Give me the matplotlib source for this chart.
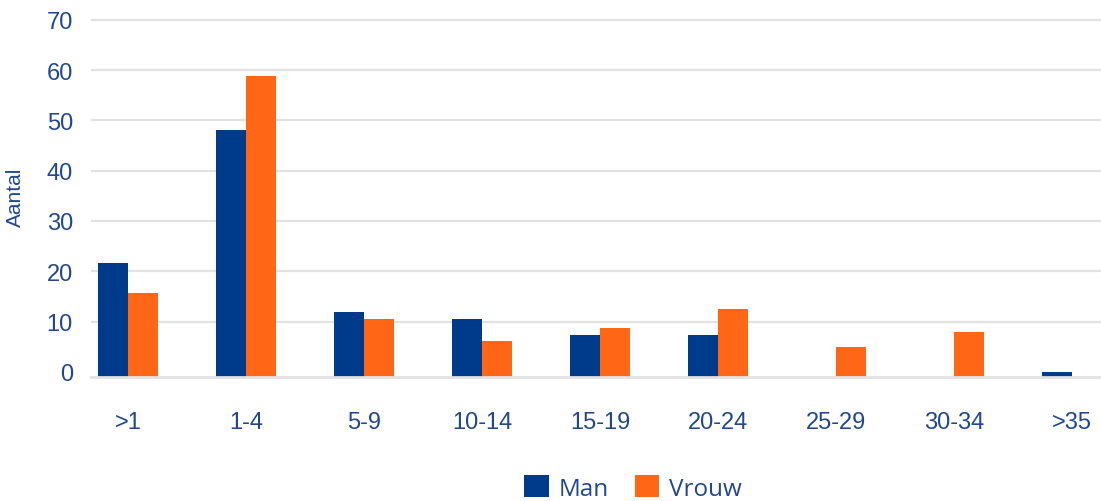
import numpy as np
import matplotlib
matplotlib.use("Agg")
import matplotlib.pyplot as plt
from matplotlib.patches import Patch

categories = [">1", "1-4", "5-9", "10-14", "15-19", "20-24", "25-29", "30-34", ">35"]
man = [21.7, 48.0, 11.8, 10.5, 7.3, 7.3, np.nan, np.nan, 0.0]
vrouw = [15.6, 58.8, 10.5, 6.1, 8.7, 12.4, 4.9, 7.9, np.nan]
yticks = [0, 10, 20, 30, 40, 50, 60, 70]
series_names = ["Man", "Vrouw"]

C_MAN = "#003A8A"
C_VROUW = "#FF6716"
C_TEXT = "#21488F"
C_GRID = "#E2E2E2"
AXIS_MIN = -0.93

plt.rcParams["font.family"] = ["Liberation Sans", "DejaVu Sans"]

fig = plt.figure(figsize=(11.01, 5.02), dpi=100)
ax = fig.add_axes([91 / 1101, (502 - 377.5) / 502, 1010 / 1101, (377.5 - 18) / 502])

x = np.arange(len(categories))
w = 0.254
man_a = np.array(man, dtype=float)
vrouw_a = np.array(vrouw, dtype=float)
ax.bar(x - w / 2, man_a - AXIS_MIN, bottom=AXIS_MIN, width=w, color=C_MAN, zorder=3)
ax.bar(x + w / 2, vrouw_a - AXIS_MIN, bottom=AXIS_MIN, width=w, color=C_VROUW, zorder=3)

ax.set_xlim(-0.314, 8.246)
ax.set_ylim(AXIS_MIN, 70.54)

for t in yticks[1:]:
    ax.axhline(t, color=C_GRID, lw=1.6, zorder=1)

ax.set_yticks(yticks)
ax.set_yticklabels([str(t) for t in yticks])
ax.set_xticks(x)
ax.set_xticklabels(categories)

ax.tick_params(axis="y", length=0, pad=13, labelsize=17, labelcolor=C_TEXT)
ax.tick_params(axis="x", length=0, pad=25, labelsize=17, labelcolor=C_TEXT)

for s in ["top", "right", "left"]:
    ax.spines[s].set_visible(False)
ax.spines["bottom"].set_color(C_GRID)
ax.spines["bottom"].set_linewidth(2)
ax.spines["bottom"].set_zorder(4)

ax.set_ylabel("Aantal", fontsize=15, color=C_TEXT)
ax.yaxis.set_label_coords(-0.065, 0.5)

handles = [Patch(facecolor=C_MAN), Patch(facecolor=C_VROUW)]
leg = fig.legend(handles, series_names, loc="center", bbox_to_anchor=(633 / 1101, (502 - 489) / 502),
                 ncol=2, frameon=False, handlelength=1.0, handleheight=1.0,
                 handletextpad=0.42, columnspacing=1.05,
                 prop={"family": ["Open Sans", "DejaVu Sans"], "size": 17.5})
for t in leg.get_texts():
    t.set_color(C_TEXT)

fig.savefig("out.png", dpi=100)
